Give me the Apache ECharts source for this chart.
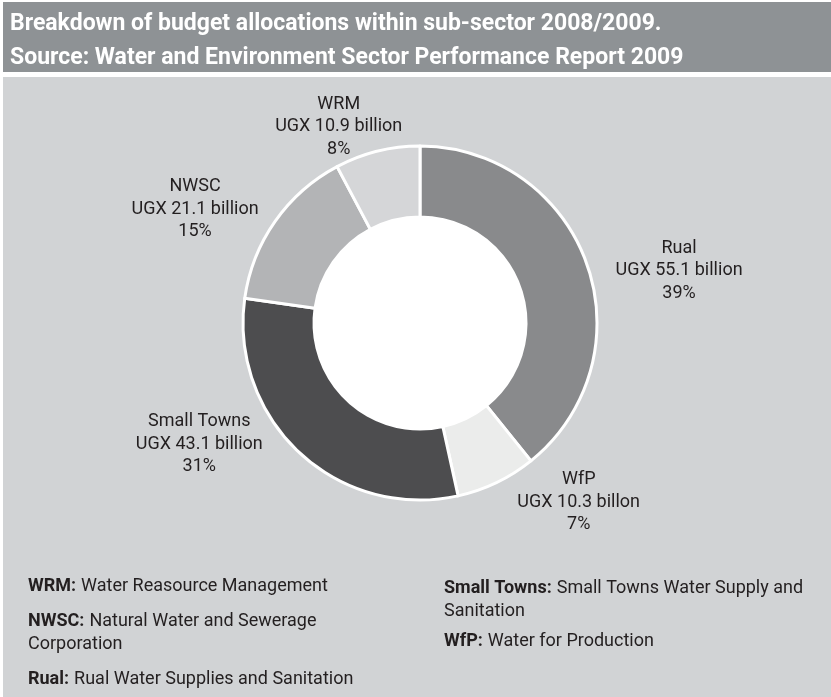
<!DOCTYPE html>
<html>
<head>
<meta charset="utf-8">
<script src="https://cdn.jsdelivr.net/npm/echarts@6/dist/echarts.min.js"></script>
<style>
html,body{margin:0;padding:0;background:#ffffff;}
#chart{width:831px;height:697px;}
</style>
</head>
<body>
<div id="chart"></div>
<script>
// ---- data ----
const categories = ['Rual', 'WfP', 'Small Towns', 'NWSC', 'WRM'];
const values = [55.1, 10.3, 43.1, 21.1, 10.9];
const units = ['billion', 'billon', 'billion', 'billion', 'billion'];
const percentLabels = ['39%', '7%', '31%', '15%', '8%'];
const titleLines = [
  'Breakdown of budget allocations within sub-sector 2008/2009.',
  'Source: Water and Environment Sector Performance Report 2009'
];
const notesLeft = [
  ['WRM:', 'Water Reasource Management'],
  ['NWSC:', 'Natural Water and Sewerage\nCorporation'],
  ['Rual:', 'Rual Water Supplies and Sanitation']
];
const notesRight = [
  ['Small Towns:', 'Small Towns Water Supply and\nSanitation'],
  ['WfP:', 'Water for Production']
];

// ---- styles ----
const sliceColors = ['#898a8c', '#ebeceb', '#4d4d4f', '#b3b4b6', '#d5d6d8'];
const labelNudge = [[0, 15], [5, -3], [-15, -27], [9, 2], [36, 0]];
const FONT = 'Roboto, "Noto Sans", sans-serif';
const TXT = '#231f20';

const chart = echarts.init(document.getElementById('chart'), null, {renderer: 'canvas'});

const pieData = categories.map((c, i) => ({
  name: c,
  value: values[i],
  itemStyle: {color: sliceColors[i]}
}));

function noteTitle(pairs, left, tops) {
  return pairs.map((p, i) => ({
    left: left, top: tops[i], padding: 0,
    text: '{b|' + p[0] + '} {n|' + p[1].split('\n')[0] + '}' +
      (p[1].indexOf('\n') >= 0 ? '\n{n|' + p[1].split('\n')[1] + '}' : ''),
    textStyle: {
      fontWeight: 'normal',
      rich: {
        b: {fontFamily: FONT, fontSize: 18, fontWeight: 'bold', color: TXT, lineHeight: 23},
        n: {fontFamily: FONT, fontSize: 18, fontWeight: 'normal', color: TXT, lineHeight: 23}
      }
    }
  }));
}

const option = {
  backgroundColor: '#ffffff',
  animation: false,
  graphic: [
    {type: 'rect', silent: true, z: -10, shape: {x: 3, y: 2, width: 828, height: 70}, style: {fill: '#8e9295'}},
    {type: 'rect', silent: true, z: -10, shape: {x: 3, y: 77, width: 828, height: 620}, style: {fill: '#d1d3d5'}}
  ],
  title: [
    {
      left: 10, top: 7, padding: 0,
      text: titleLines.join('\n'),
      textStyle: {fontFamily: FONT, fontSize: 23, fontWeight: 'bold', color: '#ffffff', lineHeight: 34}
    }
  ].concat(noteTitle(notesLeft, 28, [575, 610, 668]))
   .concat(noteTitle(notesRight, 444, [577, 630])),
  series: [
    {
      type: 'pie',
      silent: true,
      center: [420, 323],
      radius: [0, 108],
      z: 1,
      label: {show: false},
      labelLine: {show: false},
      itemStyle: {color: '#ffffff'},
      data: [{value: 1, name: 'hole'}]
    },
    {
      type: 'pie',
      silent: true,
      center: [420, 323],
      radius: [106, 177],
      startAngle: 90,
      clockwise: true,
      z: 2,
      avoidLabelOverlap: false,
      itemStyle: {borderColor: '#ffffff', borderWidth: 3},
      label: {
        show: true,
        position: 'outside',
        fontFamily: FONT,
        fontSize: 18,
        color: TXT,
        lineHeight: 22.5,
        formatter: function (p) {
          const i = p.dataIndex;
          return categories[i] + '\nUGX ' + values[i] + ' ' + units[i] + '\n' + percentLabels[i];
        }
      },
      labelLine: {show: false, length: 25, length2: 0},
      labelLayout: function (p) {
        const r = p.labelRect;
        const n = labelNudge[p.dataIndex] || [0, 0];
        return {
          x: r.x + r.width / 2 + n[0],
          y: r.y + r.height / 2 + n[1],
          align: 'center',
          verticalAlign: 'middle'
        };
      },
      data: pieData
    }
  ]
};
chart.setOption(option);
</script>
</body>
</html>
